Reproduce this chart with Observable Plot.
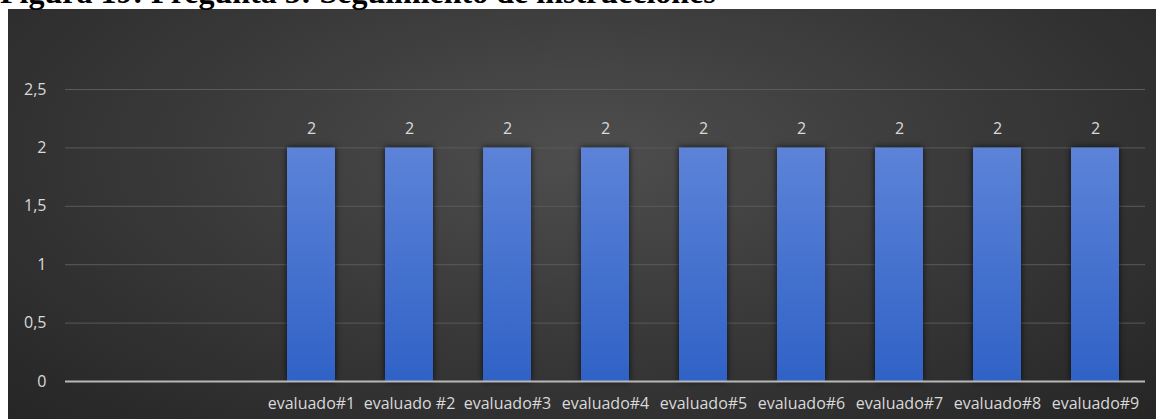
<!DOCTYPE html>
<html>
<head>
<meta charset="utf-8">
<script src="https://cdn.jsdelivr.net/npm/d3@7"></script>
<script src="https://cdn.jsdelivr.net/npm/@observablehq/plot@0.6"></script>
<style>
  html, body { margin: 0; padding: 0; background: #fff; width: 1156px; height: 419px; overflow: hidden; position: relative; }
  #title { position: absolute; left: 0; top: -24px; font: bold 32px/32px "Liberation Serif", "Times New Roman", serif; color: #000; white-space: nowrap; z-index: 2; }
  #chart { position: absolute; left: 8px; top: 9px; width: 1148px; height: 410px;
    background: radial-gradient(ellipse 70% 90% at 50% 35%, #4e4e4e 0%, #3b3b3b 45%, #262626 100%); }
</style>
</head>
<body>
<div id="title">Figura 19: Pregunta 5: Seguimiento de instrucciones</div>
<div id="chart"></div>
<script>
const categories = ["", " ", "evaluado#1", "evaluado #2", "evaluado#3", "evaluado#4", "evaluado#5", "evaluado#6", "evaluado#7", "evaluado#8", "evaluado#9"];
const values = [null, null, 2, 2, 2, 2, 2, 2, 2, 2, 2];
const yTicks = [0, 0.5, 1, 1.5, 2, 2.5];
const yTickLabels = ["0", "0,5", "1", "1,5", "2", "2,5"];

const data = categories.map((c, i) => ({cat: c, value: values[i]})).filter(d => d.value != null);

const plot = Plot.plot({
  width: 1148,
  height: 410,
  marginLeft: 57,
  marginRight: 11,
  marginTop: 80,
  marginBottom: 38,
  style: {background: "transparent", fontFamily: "'Open Sans', sans-serif", fontSize: "16px", color: "#d9d9d9"},
  x: {domain: categories, paddingInner: 0.51, paddingOuter: 0.255, label: null},
  y: {domain: [0, 2.5], label: null},
  marks: [
    Plot.ruleY(yTicks.filter(t => t > 0), {stroke: "#5a5a5a", strokeWidth: 1}),
    Plot.barY(data, {x: "cat", y: "value", fill: "url(#barGrad)"}),
    Plot.ruleY([0], {stroke: "#b8b8b8", strokeWidth: 2}),
    Plot.text(data, {x: "cat", y: "value", text: d => String(d.value), dy: -19, fill: "#d9d9d9", fontSize: 16}),
    Plot.axisY({ticks: yTicks, tickSize: 0, tickPadding: 19, tickFormat: d => yTickLabels[yTicks.indexOf(d)], fill: "#d9d9d9", fontSize: 16, label: null}),
    Plot.axisX({tickSize: 0, tickPadding: 16, fill: "#d9d9d9", fontSize: 16, label: null})
  ]
});

const svg = d3.select(plot);
const defs = svg.insert("defs", ":first-child");
const g = defs.append("linearGradient").attr("id", "barGrad").attr("x1", 0).attr("y1", 0).attr("x2", 0).attr("y2", 1);
g.append("stop").attr("offset", "0%").attr("stop-color", "#5c83d8");
g.append("stop").attr("offset", "100%").attr("stop-color", "#3062c6");
svg.selectAll("rect").filter(function() { return this.getAttribute("fill") === "url(#barGrad)" || this.parentNode.getAttribute("fill") === "url(#barGrad)"; })
  .style("filter", "drop-shadow(0px 0px 3px rgba(0,0,0,0.75))");

document.getElementById("chart").appendChild(plot);
</script>
</body>
</html>
